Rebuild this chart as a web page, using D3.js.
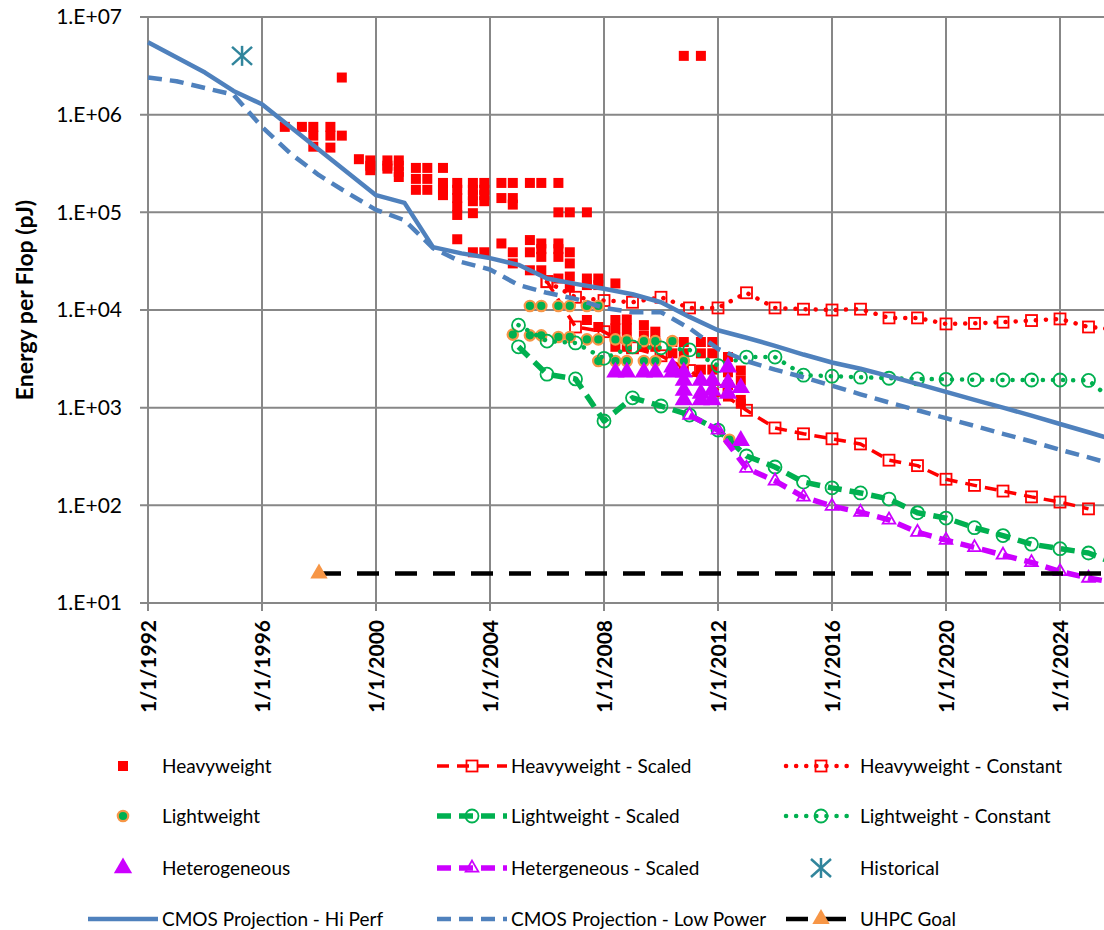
<!DOCTYPE html>
<html>
<head>
<meta charset="utf-8">
<script src="https://cdn.jsdelivr.net/npm/d3@7"></script>
<style>
  body { margin: 0; background: #fff; }
  text { font-family: Lato, "Liberation Sans", sans-serif; fill: #000; }
</style>
</head>
<body>
<script>
// ---- data (year, pJ per flop) ----
var xTickYears = [1992, 1996, 2000, 2004, 2008, 2012, 2016, 2020, 2024];
var yTickValues = [1e1, 1e2, 1e3, 1e4, 1e5, 1e6, 1e7];

var heavyweight = [
  [1996.8,7.5e5],[1997.4,7.5e5],[1997.8,7.5e5],[1997.8,6.1e5],[1997.8,4.7e5],
  [1998.4,7.5e5],[1998.4,6.1e5],[1998.4,4.6e5],[1998.8,2.4e6],[1998.8,6.1e5],
  [1999.4,3.5e5],[1999.8,3.4e5],[1999.8,3.0e5],[1999.8,2.7e5],
  [2000.4,3.4e5],[2000.4,3.0e5],[2000.4,2.8e5],
  [2000.8,3.4e5],[2000.8,3.0e5],[2000.8,2.6e5],[2000.8,2.3e5],
  [2001.4,2.85e5],[2001.4,2.2e5],[2001.4,1.7e5],
  [2001.8,2.85e5],[2001.8,2.2e5],[2001.8,1.7e5],
  [2002.35,2.85e5],[2002.35,2.0e5],[2002.35,1.7e5],[2002.35,1.5e5],
  [2002.85,2.0e5],[2002.85,1.7e5],[2002.85,1.4e5],[2002.85,1.15e5],[2002.85,9.4e4],[2002.85,5.3e4],
  [2003.4,2.0e5],[2003.4,1.7e5],[2003.4,1.5e5],[2003.4,1.3e5],[2003.4,9.8e4],[2003.4,3.9e4],
  [2003.8,2.0e5],[2003.8,1.7e5],[2003.8,1.5e5],[2003.8,1.3e5],[2003.8,3.9e4],
  [2004.4,2.0e5],[2004.4,1.4e5],[2004.4,4.8e4],
  [2004.8,2.0e5],[2004.8,1.4e5],[2004.8,1.2e5],[2004.8,3.9e4],[2004.8,3.0e4],
  [2005.4,2.0e5],[2005.4,5.2e4],[2005.4,3.9e4],[2005.4,2.55e4],
  [2005.8,2.0e5],[2005.8,4.8e4],[2005.8,4.2e4],[2005.8,3.5e4],[2005.8,2.55e4],
  [2006.4,2.0e5],[2006.4,1.0e5],[2006.4,4.8e4],[2006.4,4.2e4],[2006.4,3.5e4],[2006.4,2.1e4],
  [2006.8,1.0e5],[2006.8,3.9e4],[2006.8,3.0e4],[2006.8,2.2e4],[2006.8,1.7e4],
  [2007.4,1.0e5],[2007.4,2.1e4],[2007.4,1.8e4],[2007.4,7.9e3],
  [2007.8,2.1e4],[2007.8,1.8e4],[2007.8,6.7e3],
  [2008.4,1.87e4],[2008.4,7.9e3],[2008.4,6.5e3],[2008.4,5.2e3],[2008.4,4.2e3],
  [2008.8,8.0e3],[2008.8,6.5e3],[2008.8,5.2e3],[2008.8,4.2e3],
  [2009.4,7.0e3],[2009.4,5.5e3],[2009.4,4.2e3],
  [2009.8,6.0e3],[2009.8,4.8e3],[2009.8,4.2e3],
  [2010.4,4.7e3],[2010.4,3.6e3],
  [2010.8,4.0e6],[2010.8,4.7e3],[2010.8,3.6e3],[2010.8,2.45e3],
  [2011.4,4.0e6],[2011.4,4.7e3],[2011.4,3.6e3],[2011.4,2.45e3],
  [2011.8,4.7e3],[2011.8,3.6e3],[2011.8,2.45e3],
  [2012.35,3.3e3],[2012.35,2.3e3],[2012.35,1.7e3],[2012.35,1.3e3],
  [2012.8,2.4e3],[2012.8,1.9e3],[2012.8,1.2e3],[2012.8,1.1e3]
];

var heavyweightScaled = [
  [2006,1.95e4],[2007,6.7e3],[2008,6.0e3],[2009,4.1e3],[2010,3.4e3],[2011,2.4e3],[2012,1.5e3],
  [2013,9.4e2],[2014,6.2e2],[2015,5.4e2],[2016,4.8e2],[2017,4.25e2],[2018,2.9e2],[2019,2.55e2],
  [2020,1.85e2],[2021,1.6e2],[2022,1.4e2],[2023,1.22e2],[2024,1.08e2],[2025,9.2e1]
];

var heavyweightConstant = [
  [2006,1.95e4],[2007,1.35e4],[2008,1.25e4],[2009,1.2e4],[2010,1.35e4],[2011,1.05e4],[2012,1.05e4],
  [2013,1.5e4],[2014,1.05e4],[2015,1.02e4],[2016,1.0e4],[2017,1.02e4],[2018,8.3e3],[2019,8.3e3],
  [2020,7.2e3],[2021,7.3e3],[2022,7.5e3],[2023,7.8e3],[2024,8.1e3],[2025,6.7e3],[2026,6.3e3]
];

var lightweight = [
  [2005.4,1.1e4],[2005.8,1.1e4],[2006.4,1.1e4],[2006.8,1.1e4],[2007.4,1.1e4],[2007.8,1.1e4],
  [2004.8,5.6e3],[2005.4,5.5e3],[2005.8,5.5e3],[2006.4,5.3e3],[2006.8,5.3e3],[2007.4,5.0e3],
  [2007.8,5.0e3],[2008.4,5.0e3],[2008.8,4.9e3],[2009.4,4.8e3],[2009.8,4.8e3],[2010.4,4.8e3],
  [2007.8,3.0e3],[2008.4,3.0e3],[2008.8,3.0e3],[2009.4,3.0e3],[2009.8,3.0e3],[2010.8,3.0e3],
  [2012.4,4.7e2]
];

var lightweightScaled = [
  [2005,4.2e3],[2006,2.2e3],[2007,1.97e3],[2008,7.3e2],[2009,1.26e3],[2010,1.04e3],[2011,8.4e2],
  [2012,5.9e2],[2013,3.2e2],[2014,2.47e2],[2015,1.73e2],[2016,1.51e2],[2017,1.34e2],[2018,1.16e2],
  [2019,84],[2020,74],[2021,59],[2022,49],[2023,40],[2024,36],[2025,32.5],[2026,25]
];

var lightweightConstant = [
  [2005,7.0e3],[2006,4.8e3],[2007,4.6e3],[2008,3.2e3],[2009,4.2e3],[2010,4.1e3],[2011,3.9e3],
  [2012,2.7e3],[2013,3.3e3],[2014,3.3e3],[2015,2.15e3],[2016,2.1e3],[2017,2.05e3],[2018,2.0e3],
  [2019,1.97e3],[2020,1.95e3],[2021,1.93e3],[2022,1.92e3],[2023,1.92e3],[2024,1.92e3],[2025,1.9e3],[2026,1.1e3]
];

var heterogeneous = [
  [2008.4,2.3e3],[2008.8,2.3e3],[2009.4,2.3e3],[2009.8,2.3e3],
  [2010.4,2.6e3],[2010.4,2.3e3],
  [2010.8,2.3e3],[2010.8,1.9e3],[2010.8,1.5e3],[2010.8,1.2e3],
  [2011.4,1.9e3],[2011.4,1.4e3],[2011.4,1.2e3],
  [2011.8,1.9e3],[2011.8,1.5e3],[2011.8,1.2e3],
  [2012.35,2.6e3],[2012.35,1.8e3],[2012.35,1.4e3],
  [2012.8,1.6e3],[2012.8,4.6e2]
];

var heterogeneousScaled = [
  [2011,8.4e2],[2012,5.9e2],[2013,2.4e2],[2014,1.78e2],[2015,1.22e2],[2016,98],[2017,85],[2018,71],
  [2019,53],[2020,44],[2021,37],[2022,31],[2023,26],[2024,21],[2025,18],[2026,16]
];

var historical = [[1995.3,4.0e6]];

var cmosHiPerf = [
  [1992,5.5e6],[1994,2.7e6],[1995,1.75e6],[1996,1.28e6],[2000,1.5e5],[2001,1.25e5],[2002,4.4e4],
  [2003,3.8e4],[2004,3.4e4],[2005,2.9e4],[2006,2.1e4],[2007,1.85e4],[2008,1.65e4],[2009,1.45e4],
  [2010,1.2e4],[2011,8.5e3],[2012,6.2e3],[2013,5.2e3],[2014,4.3e3],[2015,3.5e3],[2016,2.9e3],
  [2017,2.5e3],[2018,2.1e3],[2019,1.75e3],[2020,1.45e3],[2021,1.2e3],[2022,1.0e3],[2023,8.3e2],
  [2024,6.8e2],[2025,5.6e2],[2026,4.6e2]
];

var cmosLowPower = [
  [1992,2.4e6],[1993,2.2e6],[1995,1.6e6],[1996,7.5e5],[1997,4.0e5],[1998,2.4e5],[1999,1.58e5],
  [2000,1.06e5],[2001,8.3e4],[2002,4.3e4],[2003,3.1e4],[2004,2.6e4],[2005,1.8e4],[2006,1.5e4],
  [2007,1.3e4],[2008,1.05e4],[2009,9.5e3],[2010,9.5e3],[2011,6.5e3],[2012,4.0e3],[2013,3.0e3],
  [2014,2.45e3],[2015,2.05e3],[2016,1.68e3],[2017,1.37e3],[2018,1.13e3],[2019,9.4e2],[2020,7.8e2],
  [2021,6.5e2],[2022,5.4e2],[2023,4.5e2],[2024,3.7e2],[2025,3.1e2],[2026,2.55e2]
];

var uhpcGoal = [[1998,20],[2026,20]];

// ---- colours ----
var RED = "#FF0000", GREEN = "#00B050", PURPLE = "#CC00FF", BLUE = "#4F81BD",
    TEAL = "#31859C", ORANGE = "#F79646";

var svg = d3.select("body").append("svg")
  .attr("width", 1104).attr("height", 930);

var x = d3.scaleLinear().domain([1992, 2026]).range([148, 1117]);
var y = d3.scaleLog().domain([10, 1e7]).range([603, 17]);

// grid
var grid = svg.append("g");
grid.selectAll(".vg").data(xTickYears).enter().append("line")
  .attr("x1", d => x(d)).attr("x2", d => x(d))
  .attr("y1", y(1e7)).attr("y2", y(10) + 8)
  .attr("stroke", "#878787").attr("stroke-width", 2);
grid.selectAll(".hg").data(yTickValues).enter().append("line")
  .attr("x1", x(1992) - 8).attr("x2", 1104)
  .attr("y1", d => y(d)).attr("y2", d => y(d))
  .attr("stroke", "#878787").attr("stroke-width", 2);

// axes labels
var yAxis = d3.axisLeft(y).tickValues(yTickValues).tickSize(0).tickPadding(26)
  .tickFormat(d => "1.E+" + String(Math.round(Math.log10(d))).padStart(2, "0"));
var gy = svg.append("g").attr("transform", "translate(" + x(1992) + ",0)").call(yAxis);
gy.select(".domain").remove();
gy.selectAll("text").style("font-size", "21px").style("font-family", "Lato, sans-serif");

var xAxis = d3.axisBottom(x).tickValues(xTickYears).tickSize(0)
  .tickFormat(d => "1/1/" + d);
var gx = svg.append("g").attr("transform", "translate(0," + y(10) + ")").call(xAxis);
gx.select(".domain").remove();
gx.selectAll("text")
  .attr("transform", "rotate(-90)")
  .attr("x", -17).attr("y", 0).attr("dy", "0.36em")
  .style("text-anchor", "end")
  .style("font-size", "21px").style("font-weight", "bold")
  .style("font-family", "Lato, sans-serif");

svg.append("text")
  .attr("transform", "translate(33," + 300 + ") rotate(-90)")
  .attr("text-anchor", "middle")
  .style("font-size", "23px").style("font-weight", "bold")
  .text("Energy per Flop (pJ)");

// ---- markers ----
function marker(g, kind, cx, cy) {
  if (kind === "sqFill") {
    g.append("rect").attr("x", cx - 5).attr("y", cy - 5).attr("width", 10).attr("height", 10)
      .attr("fill", RED);
  } else if (kind === "sqOpen") {
    g.append("rect").attr("x", cx - 5.5).attr("y", cy - 5.5).attr("width", 11).attr("height", 11)
      .attr("fill", "none").attr("stroke", RED).attr("stroke-width", 1.8);
  } else if (kind === "circLW") {
    g.append("circle").attr("cx", cx).attr("cy", cy).attr("r", 5.2)
      .attr("fill", GREEN).attr("stroke", ORANGE).attr("stroke-width", 2.2);
  } else if (kind === "circOpen") {
    g.append("circle").attr("cx", cx).attr("cy", cy).attr("r", 6.5)
      .attr("fill", "none").attr("stroke", GREEN).attr("stroke-width", 1.8);
  } else if (kind === "triFill") {
    g.append("path").attr("d", d3.symbol(d3.symbolTriangle, 145)())
      .attr("transform", "translate(" + cx + "," + cy + ")").attr("fill", PURPLE);
  } else if (kind === "triOpen") {
    g.append("path").attr("d", d3.symbol(d3.symbolTriangle, 70)())
      .attr("transform", "translate(" + cx + "," + cy + ")")
      .attr("fill", "none").attr("stroke", PURPLE).attr("stroke-width", 1.8);
  } else if (kind === "triOrange") {
    g.append("path").attr("d", d3.symbol(d3.symbolTriangle, 130)())
      .attr("transform", "translate(" + cx + "," + cy + ")").attr("fill", ORANGE);
  } else if (kind === "star") {
    var s = g.append("g").attr("transform", "translate(" + cx + "," + cy + ")")
      .attr("stroke", TEAL).attr("stroke-width", 2.5);
    s.append("line").attr("x1", -10).attr("y1", -9).attr("x2", 10).attr("y2", 9);
    s.append("line").attr("x1", -10).attr("y1", 9).attr("x2", 10).attr("y2", -9);
    s.append("line").attr("x1", 0).attr("y1", -10).attr("x2", 0).attr("y2", 10);
  }
}

var line = d3.line().x(d => x(d[0])).y(d => y(d[1]));

var series = [
  { name: "Heavyweight", data: heavyweight, marker: "sqFill" },
  { name: "Heavyweight - Scaled", data: heavyweightScaled, marker: "sqOpen",
    stroke: RED, width: 3.5, dash: "12,8" },
  { name: "Heavyweight - Constant", data: heavyweightConstant, marker: "sqOpen",
    stroke: RED, width: 4.5, dash: "0.1,10", cap: "round" },
  { name: "Lightweight", data: lightweight, marker: "circLW" },
  { name: "Lightweight - Scaled", data: lightweightScaled, marker: "circOpen",
    stroke: GREEN, width: 5.5, dash: "14,8" },
  { name: "Lightweight - Constant", data: lightweightConstant, marker: "circOpen",
    stroke: GREEN, width: 4.5, dash: "0.1,10", cap: "round" },
  { name: "Heterogeneous", data: heterogeneous, marker: "triFill" },
  { name: "Hetergeneous - Scaled", data: heterogeneousScaled, marker: "triOpen",
    stroke: PURPLE, width: 5.5, dash: "14,8" },
  { name: "Historical", data: historical, marker: "star" },
  { name: "CMOS Projection - Hi Perf", data: cmosHiPerf, marker: null,
    stroke: BLUE, width: 4.5, dash: null },
  { name: "CMOS Projection - Low Power", data: cmosLowPower, marker: null,
    stroke: BLUE, width: 4.5, dash: "14,8" },
  { name: "UHPC Goal", data: uhpcGoal, marker: "triOrange", markerFirstOnly: true,
    stroke: "#000", width: 4.5, dash: "22,16" }
];

var plot = svg.append("g");
series.forEach(function (s) {
  var g = plot.append("g");
  if (s.stroke) {
    g.append("path").datum(s.data).attr("d", line)
      .attr("fill", "none").attr("stroke", s.stroke).attr("stroke-width", s.width)
      .attr("stroke-dasharray", s.dash).attr("stroke-linecap", s.cap || "butt")
      .attr("stroke-linejoin", "round");
  }
  if (s.marker) {
    var pts = s.markerFirstOnly ? s.data.slice(0, 1) : s.data;
    pts.forEach(function (d) { marker(g, s.marker, x(d[0]), y(d[1])); });
  }
});

// ---- legend ----
var legCols = [123, 472, 821];
var legRows = [766, 816, 868, 919];
var lg = svg.append("g");
series.forEach(function (s, i) {
  var cx = legCols[i % 3], cy = legRows[Math.floor(i / 3)];
  if (s.stroke) {
    lg.append("line").attr("x1", cx - 35).attr("x2", cx + 35).attr("y1", cy).attr("y2", cy)
      .attr("stroke", s.stroke).attr("stroke-width", s.width)
      .attr("stroke-dasharray", s.dash).attr("stroke-linecap", s.cap || "butt");
  }
  if (s.marker) marker(lg, s.marker, cx, cy);
  lg.append("text").attr("x", cx + 39).attr("y", cy).attr("dy", "0.35em")
    .style("font-size", "19px").text(s.name);
});
</script>
</body>
</html>
